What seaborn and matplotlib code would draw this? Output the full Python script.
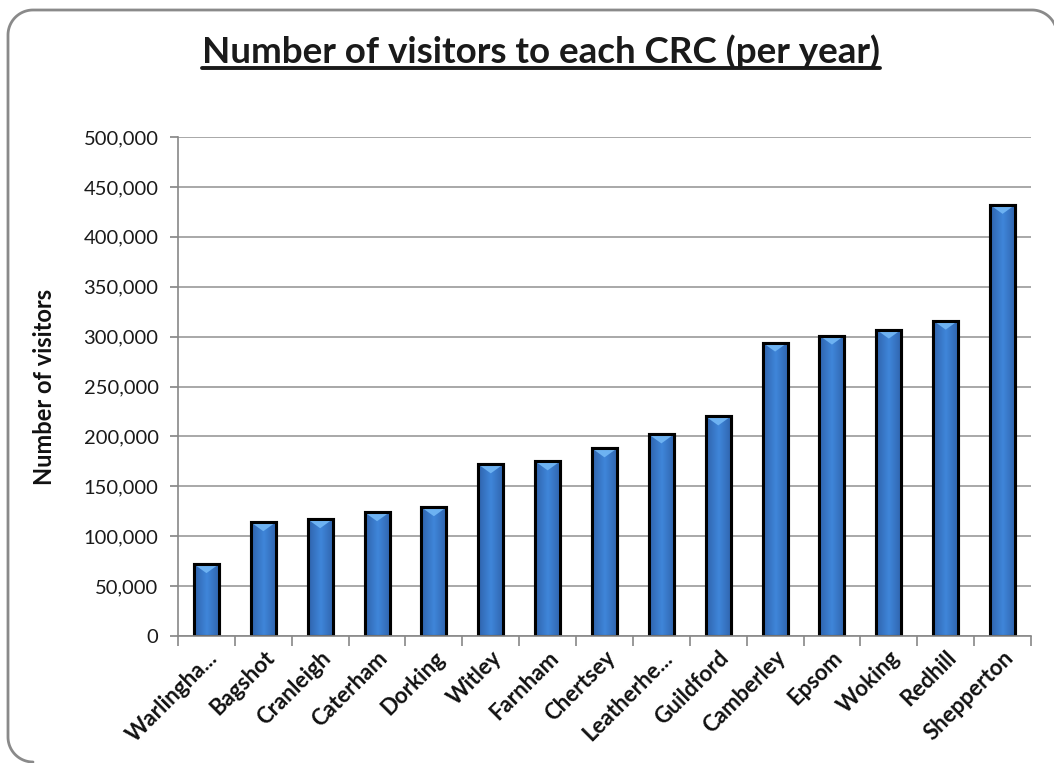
import matplotlib
matplotlib.use("Agg")
import matplotlib.pyplot as plt
import seaborn as sns
import pandas as pd
import numpy as np
from matplotlib.patches import Polygon
from matplotlib.ticker import FuncFormatter, MultipleLocator
from matplotlib.lines import Line2D
from matplotlib.colors import LinearSegmentedColormap
from matplotlib.transforms import IdentityTransform

sites = ["Warlingha...", "Bagshot", "Cranleigh", "Caterham", "Dorking", "Witley",
         "Farnham", "Chertsey", "Leatherhe...", "Guildford", "Camberley", "Epsom",
         "Woking", "Redhill", "Shepperton"]
visitors = [72000, 114000, 117000, 124000, 129000, 172000, 175000, 188000,
            202000, 220000, 294000, 301000, 307000, 316000, 432000]

df = pd.DataFrame({"site": sites, "visitors": visitors})

sns.set_theme(style="white")
plt.rcParams['font.family'] = ['Lato', 'DejaVu Sans']

W, H = 1054, 763
fig = plt.figure(figsize=(W / 100, H / 100), dpi=100)
ax = fig.add_axes([178/W, 1-636/H, (1031-178)/W, (636-137)/H])

sns.barplot(data=df, x="site", y="visitors", ax=ax, color="#3B7DD0",
            width=0.44, edgecolor="black", linewidth=2.2, saturation=1)

ax.set_ylim(0, 500000)
ax.set_xlim(-0.5, len(sites)-0.5)

# gradient shading inside each bar (derived from the bar patches)
cmap = LinearSegmentedColormap.from_list("bar", ["#2F63AC", "#3F86DA", "#2F63AC"])
grad = np.linspace(0, 1, 64).reshape(1, -1)
for p in list(ax.patches):
    x0, y0 = p.get_x(), p.get_y()
    w, h = p.get_width(), p.get_height()
    im = ax.imshow(grad, cmap=cmap, aspect="auto", extent=[x0, x0 + w, y0, y0 + h],
                   zorder=p.get_zorder() + 0.1, interpolation="bicubic")
    im.set_clip_path(p)
    th = 9000
    tri = Polygon([[x0, y0 + h], [x0 + w, y0 + h], [x0 + w / 2, y0 + h - th]],
                  closed=True, facecolor="#6DB2F2", edgecolor="none",
                  zorder=p.get_zorder() + 0.2)
    ax.add_patch(tri)
    edge = plt.Rectangle((x0, y0), w, h, facecolor="none", edgecolor="black",
                         linewidth=2.2, zorder=p.get_zorder() + 0.3)
    ax.add_patch(edge)

ax.set_ylim(0, 500000)
ax.set_xlim(-0.5, len(sites)-0.5)
ax.yaxis.set_major_locator(MultipleLocator(50000))
ax.yaxis.set_major_formatter(FuncFormatter(lambda v, p: f"{int(v):,}"))
ax.grid(axis="y", color="#999999", linewidth=1.2)
ax.set_axisbelow(True)
for s in ["top", "right"]:
    ax.spines[s].set_visible(False)
ax.spines["left"].set_color("#888888")
ax.spines["bottom"].set_color("#888888")
ax.spines["left"].set_linewidth(1.2)
ax.spines["bottom"].set_linewidth(1.2)

ax.tick_params(axis="y", which="major", direction="out", length=6, color="#888888",
               labelsize=14.5, pad=8, left=True, labelcolor="#1a1a1a")
ax.set_xticks([i for i in range(len(sites))])
ax.set_xticklabels(sites, rotation=45, ha="right", rotation_mode="anchor",
                   fontsize=16, fontweight="bold", color="#111111")
ax.tick_params(axis="x", which="major", length=0, pad=8)
ax.set_xticks([i - 0.5 for i in range(len(sites) + 1)], minor=True)
ax.tick_params(axis="x", which="minor", direction="out", length=7, color="#888888",
               bottom=True, width=1.2)

ax.set_xlabel("")
ax.set_ylabel("Number of visitors", fontsize=17, fontweight="bold", labelpad=20,
              color="#111111")

title = fig.text(541/W, 1-52/H, "Number of visitors to each CRC (per year)",
                 ha="center", va="center", fontsize=26.5, fontweight="bold", color="#1a1a1a")

fig.canvas.draw()
bb = title.get_window_extent()
inv = fig.transFigure.inverted()
(x0, y0), (x1, y1) = inv.transform([(bb.x0, bb.y0), (bb.x1, bb.y0)])
fig.add_artist(Line2D([x0, x1], [y0 + 1/H, y0 + 1/H], transform=fig.transFigure,
                      color="#1a1a1a", linewidth=2.8))

# rounded outer frame drawn in pixel coordinates (right edge just beyond canvas)
r = 25
left, top, right, bottom = 8, H - 10, W + 3, 1
t = np.linspace(0, np.pi / 2, 30)
bl = np.column_stack([left + r - r * np.sin(t), bottom + r - r * np.cos(t)])   # (33,1)->(8,26)
tl = np.column_stack([left + r - r * np.cos(t), top - r + r * np.sin(t)])      # (8,728)->(33,753)
tr = np.column_stack([right - r + r * np.sin(t), top - r + r * np.cos(t)])     # (1032,753)->(right,728)
pts = np.vstack([bl, tl, tr])
frame = Line2D(pts[:, 0], pts[:, 1], transform=IdentityTransform(),
               color="#8a8a8a", linewidth=2.0, solid_joinstyle="round")
fig.add_artist(frame)

fig.savefig("out.png", dpi=100)
